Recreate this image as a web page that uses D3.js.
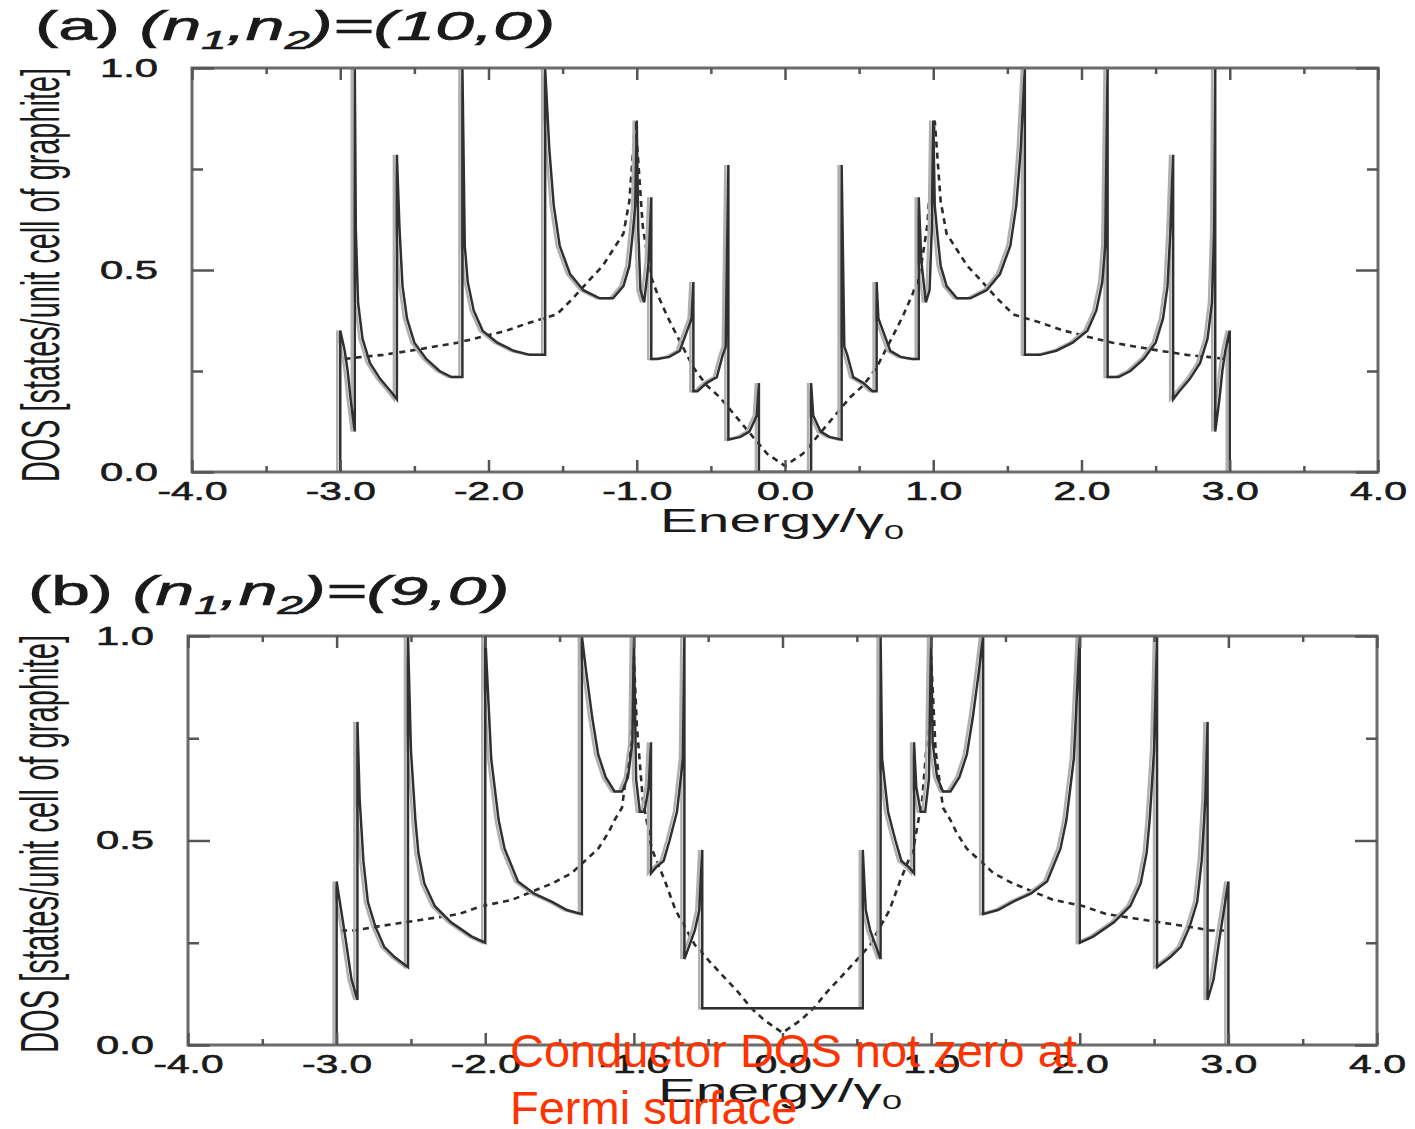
<!DOCTYPE html>
<html><head><meta charset="utf-8">
<script src="https://cdn.jsdelivr.net/npm/d3@7"></script>
<style>
body{margin:0;background:#fff}
svg{display:block}
text{font-family:"Liberation Sans",Arial,Helvetica,sans-serif}
</style>
</head><body>
<svg id="chart" width="1415" height="1129"></svg>
<script>
// ---------------- DATA ----------------
// Energy axis / DOS axis
const energyDomain = [-4, 4];
const dosDomain = [0, 1];
const xMajorTicks = [-4, -3, -2, -1, 0, 1, 2, 3, 4];
const xMajorLabels = ["-4.0", "-3.0", "-2.0", "-1.0", "0.0", "1.0", "2.0", "3.0", "4.0"];
const xMinorTicks = [-3.5, -2.5, -1.5, -0.5, 0.5, 1.5, 2.5, 3.5];
const yMajorTicks = [0, 0.5, 1];
const yMajorLabels = ["0.0", "0.5", "1.0"];
const yMinorTicks = [0.25, 0.75];

const panelLetters = ["(a)", "(b)"];
const panelIndices = [["10", "0"], ["9", "0"]];
const xAxisTitle = "Energy/\u03b3";
const xAxisTitleSub = "0";
const yAxisTitle = "DOS [states/unit cell of graphite]";
const noteLines = ["Conductor DOS not zero at", "Fermi surface"];

// Nanotube DOS, E >= 0 half ([energy, DOS]); the curves are symmetric about E = 0.
const dos10_0 = [
  [0.00,0.00],[0.176,0.00],[0.176,0.22],[0.19,0.14],[0.24,0.10],[0.30,0.087],[0.382,0.08],
  [0.382,0.76],[0.40,0.31],[0.42,0.29],[0.46,0.235],[0.53,0.22],[0.59,0.20],[0.618,0.20],
  [0.618,0.47],[0.63,0.38],[0.67,0.34],[0.71,0.30],[0.78,0.285],[0.86,0.28],[0.902,0.28],
  [0.902,0.68],[0.92,0.52],[0.95,0.42],[0.975,0.45],[0.99,0.60],[1.00,0.87],
  [1.01,0.66],[1.03,0.58],[1.05,0.51],[1.09,0.46],[1.16,0.43],[1.25,0.43],[1.36,0.45],
  [1.45,0.49],[1.52,0.56],[1.56,0.66],[1.59,0.80],[1.618,1.00],
  [1.618,0.29],[1.72,0.29],[1.83,0.30],[1.94,0.32],[2.04,0.35],[2.10,0.40],[2.14,0.47],
  [2.16,0.56],[2.176,1.00],
  [2.176,0.235],[2.25,0.235],[2.33,0.25],[2.42,0.28],[2.50,0.32],[2.55,0.38],[2.58,0.46],
  [2.60,0.60],[2.618,0.785],
  [2.618,0.18],[2.66,0.20],[2.73,0.23],[2.80,0.27],[2.85,0.33],[2.88,0.42],[2.895,0.60],
  [2.902,1.00],
  [2.902,0.10],[2.93,0.18],[2.95,0.25],[2.97,0.30],[3.00,0.35],[3.00,0.00]
];
const dos9_0 = [
  [0.00,0.09],[0.54,0.09],[0.54,0.477],[0.56,0.33],[0.59,0.28],[0.63,0.24],[0.66,0.21],
  [0.66,1.00],[0.67,0.70],[0.71,0.57],[0.76,0.50],[0.80,0.45],[0.85,0.435],[0.885,0.42],
  [0.885,0.74],[0.90,0.63],[0.93,0.57],[0.96,0.57],[0.985,0.65],[1.00,1.00],
  [1.01,0.74],[1.04,0.655],[1.08,0.62],[1.13,0.62],[1.19,0.655],[1.24,0.71],[1.28,0.80],
  [1.32,0.91],[1.35,1.00],
  [1.35,0.32],[1.45,0.33],[1.55,0.35],[1.67,0.37],[1.78,0.40],[1.87,0.48],[1.91,0.55],
  [1.96,0.70],[2.00,1.00],
  [2.00,0.25],[2.09,0.265],[2.23,0.30],[2.34,0.34],[2.41,0.395],[2.45,0.47],[2.47,0.55],
  [2.50,0.72],[2.52,1.00],
  [2.52,0.19],[2.61,0.215],[2.68,0.24],[2.74,0.29],[2.79,0.35],[2.82,0.45],[2.845,0.60],
  [2.86,0.79],
  [2.86,0.11],[2.90,0.16],[2.94,0.26],[2.97,0.33],[3.00,0.40],[3.00,0.00]
];
// Graphite DOS (dotted), E >= 0 half
const graphiteA = [
  [0.00,0.015],[0.12,0.045],[0.28,0.115],[0.44,0.185],[0.53,0.215],[0.62,0.26],[0.69,0.31],
  [0.76,0.36],[0.80,0.39],[0.86,0.44],[0.91,0.49],[0.96,0.61],[0.99,0.77],[1.01,0.87],
  [1.05,0.67],[1.09,0.59],[1.16,0.55],[1.23,0.51],[1.32,0.475],[1.43,0.43],[1.54,0.39],
  [1.72,0.37],[1.88,0.35],[2.04,0.335],[2.21,0.32],[2.37,0.31],[2.53,0.30],[2.71,0.29],
  [2.85,0.285],[2.97,0.28]
];
const graphiteB = [
  [0.00,0.03],[0.12,0.06],[0.21,0.09],[0.30,0.13],[0.39,0.165],[0.48,0.20],[0.59,0.245],
  [0.72,0.33],[0.79,0.40],[0.88,0.48],[0.94,0.60],[0.98,0.78],[1.00,0.95],[1.03,0.72],
  [1.08,0.58],[1.13,0.55],[1.17,0.52],[1.24,0.48],[1.33,0.45],[1.42,0.42],[1.55,0.395],
  [1.82,0.355],[2.02,0.34],[2.18,0.32],[2.36,0.31],[2.54,0.30],[2.72,0.29],[2.88,0.28],
  [2.97,0.28]
];
const tubeSeries = [dos10_0, dos9_0];
const graphiteSeries = [graphiteA, graphiteB];

// ---------------- LAYOUT ----------------
const panels = [
  {left:192, right:1378, top:68, bottom:472, titleX:35, titleY:40,
   xLabY:10, yLabPad:34, xtX:660, xtY:532, ytX:59, ytY:482, ytLen:414},
  {left:188, right:1377, top:636, bottom:1045, titleX:28, titleY:605,
   xLabY:10, yLabPad:34, xtX:658, xtY:1102, ytX:58, ytY:1053, ytLen:418}
];

const svg = d3.select("#chart");
const mirror = half => half.slice().reverse().map(([e, d]) => [-e, d]).concat(half);
const lineCol = "#303030";
const axisCol = "#6b6b6b";
const textCol = "#1a1a1a";

panels.forEach((p, i) => {
  const x = d3.scaleLinear().domain(energyDomain).range([p.left, p.right]);
  const y = d3.scaleLinear().domain(dosDomain).range([p.bottom, p.top]);
  const g = svg.append("g");

  svg.append("clipPath").attr("id", "clip" + i).append("rect")
    .attr("x", p.left).attr("y", p.top)
    .attr("width", p.right - p.left).attr("height", p.bottom - p.top);

  const line = d3.line().x(d => x(d[0])).y(d => y(d[1]));
  const plot = g.append("g").attr("clip-path", `url(#clip${i})`);

  plot.append("path").datum(mirror(graphiteSeries[i]))
    .attr("d", line).attr("fill", "none").attr("stroke", "#2a2a2a")
    .attr("stroke-width", 2.6).attr("stroke-dasharray", "6,5");

  // faint ghost copy of the solid curve (print double image)
  plot.append("path").datum(mirror(tubeSeries[i]))
    .attr("d", line).attr("fill", "none").attr("stroke", "#b0b0b0")
    .attr("stroke-width", 2.5).attr("transform", "translate(-3,0)");
  plot.append("path").datum(mirror(tubeSeries[i]))
    .attr("d", line).attr("fill", "none").attr("stroke", lineCol)
    .attr("stroke-width", 2.5).attr("stroke-linejoin", "miter");

  // frame
  g.append("rect").attr("x", p.left).attr("y", p.top)
    .attr("width", p.right - p.left).attr("height", p.bottom - p.top)
    .attr("fill", "none").attr("stroke", axisCol).attr("stroke-width", 3);

  const styleAxis = sel => {
    sel.select(".domain").remove();
    sel.selectAll(".tick line").attr("stroke", "#555").attr("stroke-width", 2.5);
    sel.selectAll(".tick text").attr("fill", textCol).attr("font-size", 26)
      .attr("stroke", textCol).attr("stroke-width", 0.6);
  };

  // bottom
  const bx = g.append("g").attr("transform", `translate(0,${p.bottom})`)
    .call(d3.axisBottom(x).tickValues(xMajorTicks)
      .tickFormat((d, k) => xMajorLabels[k]).tickSizeInner(-12).tickSizeOuter(0).tickPadding(p.xLabY))
    .call(styleAxis);
  bx.selectAll(".tick text")
    .attr("textLength", (d, k) => xMajorLabels[k].length > 3 ? 70 : 57)
    .attr("lengthAdjust", "spacingAndGlyphs");
  g.append("g").attr("transform", `translate(0,${p.bottom})`)
    .call(d3.axisBottom(x).tickValues(xMinorTicks).tickFormat("").tickSizeInner(-6).tickSizeOuter(0))
    .call(styleAxis);
  // top
  g.append("g").attr("transform", `translate(0,${p.top})`)
    .call(d3.axisTop(x).tickValues(xMajorTicks).tickFormat("").tickSizeInner(-12).tickSizeOuter(0))
    .call(styleAxis);
  g.append("g").attr("transform", `translate(0,${p.top})`)
    .call(d3.axisTop(x).tickValues(xMinorTicks).tickFormat("").tickSizeInner(-6).tickSizeOuter(0))
    .call(styleAxis);
  // left
  const ly = g.append("g").attr("transform", `translate(${p.left},0)`)
    .call(d3.axisLeft(y).tickValues(yMajorTicks)
      .tickFormat((d, k) => yMajorLabels[k]).tickSizeInner(-22).tickSizeOuter(0).tickPadding(p.yLabPad))
    .call(styleAxis);
  ly.selectAll(".tick text").attr("textLength", 58).attr("lengthAdjust", "spacingAndGlyphs");
  g.append("g").attr("transform", `translate(${p.left},0)`)
    .call(d3.axisLeft(y).tickValues(yMinorTicks).tickFormat("").tickSizeInner(-11).tickSizeOuter(0))
    .call(styleAxis);
  // right
  g.append("g").attr("transform", `translate(${p.right},0)`)
    .call(d3.axisRight(y).tickValues(yMajorTicks).tickFormat("").tickSizeInner(-22).tickSizeOuter(0))
    .call(styleAxis);
  g.append("g").attr("transform", `translate(${p.right},0)`)
    .call(d3.axisRight(y).tickValues(yMinorTicks).tickFormat("").tickSizeInner(-11).tickSizeOuter(0))
    .call(styleAxis);

  // panel title
  const tg = g.append("g").attr("transform", `translate(${p.titleX},${p.titleY}) scale(1.74,1)`);
  const tt = tg.append("text").attr("x", 0).attr("y", 0).attr("font-size", 40).attr("fill", textCol)
    .attr("stroke", textCol).attr("stroke-width", 0.7);
  tt.append("tspan").text(panelLetters[i] + " ");
  tt.append("tspan").attr("font-style", "italic").text("(n");
  tt.append("tspan").attr("font-style", "italic").attr("font-size", 26).attr("dy", 9).text("1");
  tt.append("tspan").attr("font-style", "italic").attr("dy", -9).text(",n");
  tt.append("tspan").attr("font-style", "italic").attr("font-size", 26).attr("dy", 9).text("2");
  tt.append("tspan").attr("font-style", "italic").attr("dy", -9)
    .text(")=(" + panelIndices[i][0] + "," + panelIndices[i][1] + ")");

  // x-axis title
  const xg = g.append("g").attr("transform", `translate(${p.xtX},${p.xtY}) scale(1.72,1)`);
  const xt = xg.append("text").attr("font-size", 33).attr("fill", textCol);
  xt.append("tspan").text(xAxisTitle);
  xt.append("tspan").attr("font-size", 21).attr("dy", 7).text(xAxisTitleSub);

  // y-axis title
  g.append("text").attr("transform", `translate(${p.ytX},${p.ytY}) rotate(-90)`)
    .attr("font-size", 54).attr("fill", textCol)
    .attr("textLength", p.ytLen).attr("lengthAdjust", "spacingAndGlyphs")
    .text(yAxisTitle);
});

// red annotation
const note = svg.append("text").attr("font-size", 47).attr("fill", "#ff3300");
note.append("tspan").attr("x", 510).attr("y", 1067).text(noteLines[0]);
note.append("tspan").attr("x", 510).attr("y", 1124).text(noteLines[1]);
</script>
</body></html>
